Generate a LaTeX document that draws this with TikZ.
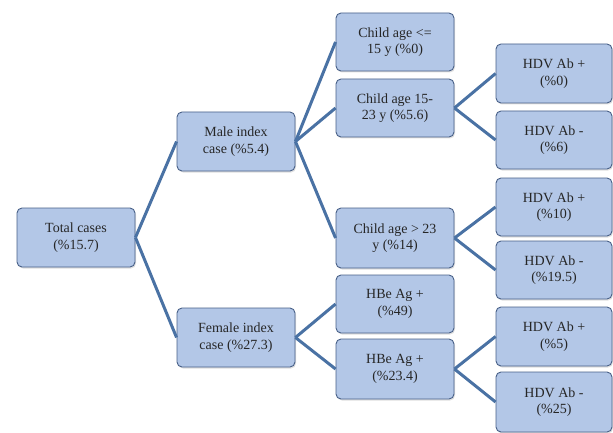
\documentclass[tikz,border=0pt]{standalone}
\usepackage{fontspec}
\setmainfont{Liberation Serif}
\usetikzlibrary{shadows}
\definecolor{boxfill}{RGB}{179,199,231}
\definecolor{boxline}{RGB}{72,96,136}
\definecolor{conn}{RGB}{74,114,164}
\tikzset{
  box/.style={draw=boxline, line width=0.9pt, fill=boxfill, rounded corners=5pt,
    minimum width=118pt, minimum height=59pt, inner sep=2pt, align=center,
    font=\fontsize{14}{16.5}\selectfont, text=black!85,
    drop shadow={shadow xshift=1pt, shadow yshift=-1.5pt, opacity=0.25}},
  rbox/.style={box, minimum width=116pt},
  conn/.style={draw=conn, line width=3pt}
}
\begin{document}
\begin{tikzpicture}[x=1pt,y=-1pt]
\useasboundingbox (0,0) rectangle (613,433);
\node[box] (t) at (76,237.5) {Total cases\\(\%15.7)};
\node[box] (m) at (236,141.5) {Male index\\case (\%5.4)};
\node[box] (f) at (236,337.5) {Female index\\case (\%27.3)};
\node[box, minimum height=58pt] (c1) at (395,42) {Child age <=\\15 y (\%0)};
\node[box, minimum height=58pt] (c2) at (395,108) {Child age 15-\\23 y (\%5.6)};
\node[box, minimum height=60pt] (c3) at (395,238) {Child age > 23\\y (\%14)};
\node[box, minimum height=58pt] (h1) at (395,304) {HBe Ag +\\(\%49)};
\node[box, minimum height=60pt] (h2) at (395,369) {HBe Ag +\\(\%23.4)};
\node[rbox, minimum height=59pt] (r1) at (554,73.5) {HDV Ab +\\(\%0)};
\node[rbox, minimum height=58pt] (r2) at (554,140) {HDV Ab -\\(\%6)};
\node[rbox, minimum height=58pt] (r3) at (554,207) {HDV Ab +\\(\%10)};
\node[rbox, minimum height=58pt] (r4) at (554,270) {HDV Ab -\\(\%19.5)};
\node[rbox, minimum height=59pt] (r5) at (554,336.5) {HDV Ab +\\(\%5)};
\node[rbox, minimum height=60pt] (r6) at (554,402) {HDV Ab -\\(\%25)};
\draw[conn] (t.east) -- (m.west);
\draw[conn] (t.east) -- (f.west);
\draw[conn] (m.east) -- (c1.west);
\draw[conn] (m.east) -- (c2.west);
\draw[conn] (m.east) -- (c3.west);
\draw[conn] (f.east) -- (h1.west);
\draw[conn] (f.east) -- (h2.west);
\draw[conn] (c2.east) -- (r1.west);
\draw[conn] (c2.east) -- (r2.west);
\draw[conn] (c3.east) -- (r3.west);
\draw[conn] (c3.east) -- (r4.west);
\draw[conn] (h2.east) -- (r5.west);
\draw[conn] (h2.east) -- (r6.west);
\end{tikzpicture}
\end{document}
